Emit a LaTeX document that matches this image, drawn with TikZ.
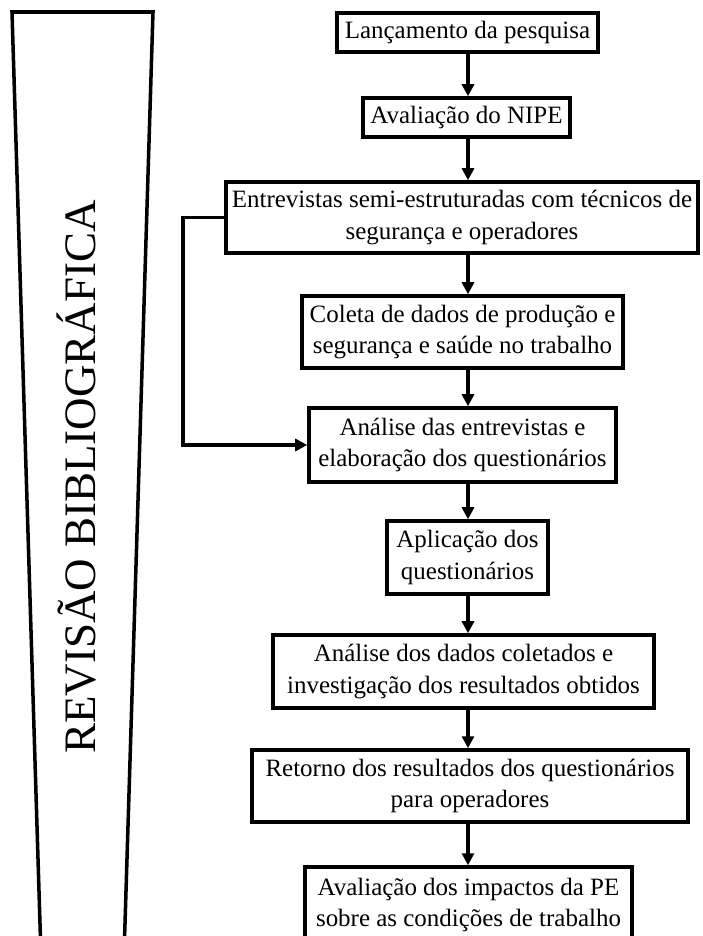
\documentclass[tikz,border=0pt]{standalone}
\usepackage{fontspec}
\setmainfont{Liberation Serif}
\usetikzlibrary{arrows.meta}
\begin{document}
\begin{tikzpicture}[x=0.03cm,y=-0.03cm,line width=3pt,etapa/.style={draw=black,align=center,inner sep=0pt,font=\fontsize{21.3}{27.2}\selectfont},seta/.style={-{Triangle[length=0.36cm,width=0.36cm]}},titulo/.style={rotate=90,anchor=base,font=\fontsize{38.4}{40}\selectfont}]
\def\px{0.03cm};
\useasboundingbox (0,0) rectangle (702,936);
\clip (0,0) rectangle (702,936);

% coluna das setas e retorno
\coordinate (eixo) at (468,0);
\coordinate (ret) at (183,0);

% faixa lateral
\draw[line join=miter] (40.5,940) -- (12,12) -- (153,12) -- (124.5,940);
\node[titulo] (T) at (95,477) {REVISÃO BIBLIOGRÁFICA};

\node[etapa,minimum width=261*\px,minimum height=39*\px] (b1) at (467.5,32.5) {Lançamento da pesquisa};
\node[etapa,minimum width=207*\px,minimum height=39*\px] (b2) at (466.5,117.5) {Avaliação do NIPE};
\node[etapa,minimum width=472*\px,minimum height=71*\px] (b3) at (462,217.5) {Entrevistas semi-estruturadas com técnicos de\\segurança e operadores};
\node[etapa,minimum width=321*\px,minimum height=72*\px] (b4) at (462.5,332) {Coleta de dados de produção e\\segurança e saúde no trabalho};
\node[etapa,minimum width=307*\px,minimum height=74*\px] (b5) at (462.5,445) {Análise das entrevistas e\\elaboração dos questionários};
\node[etapa,minimum width=161*\px,minimum height=73*\px] (b6) at (467.5,557.5) {Aplicação dos\\questionários};
\node[etapa,minimum width=381*\px,minimum height=73*\px] (b7) at (463.5,671.5) {Análise dos dados coletados e\\investigação dos resultados obtidos};
\node[etapa,minimum width=436*\px,minimum height=72*\px] (b8) at (470,786) {Retorno dos resultados dos questionários\\para operadores};
\node[etapa,minimum width=327*\px,minimum height=76*\px] (b9) at (468.5,905) {Avaliação dos impactos da PE\\sobre as condições de trabalho};

\foreach \a/\b in {b1/b2,b2/b3,b3/b4,b4/b5,b5/b6,b6/b7,b7/b8,b8/b9}
  \draw[seta] (\a.south -| eixo) -- (\b.north -| eixo);

\draw[seta] (b3.west) -- (b3.west -| ret) -- (b5.west -| ret) -- (b5.west);
\end{tikzpicture}
\end{document}
